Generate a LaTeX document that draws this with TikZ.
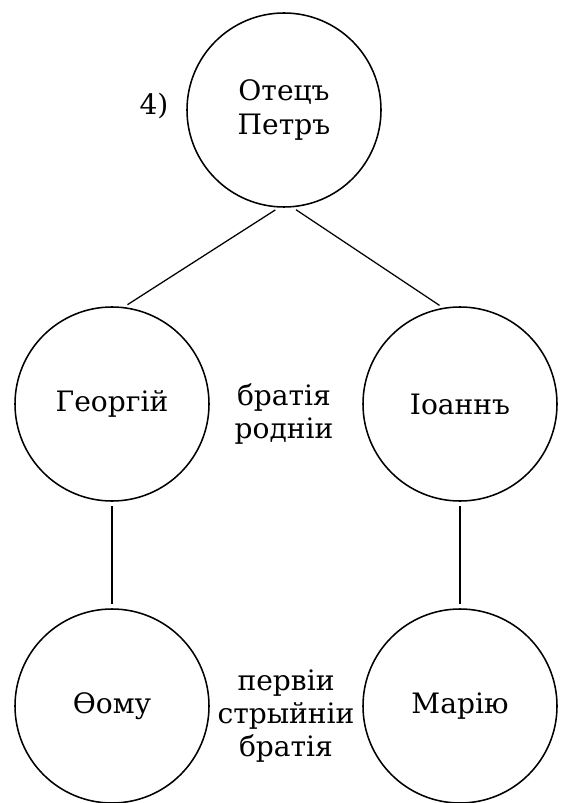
\documentclass[tikz,border=0pt]{standalone}
\usepackage{fontspec}
\setmainfont{DejaVu Serif}

\tikzset{
    person/.style={circle, draw, line width=1.1pt, minimum size=4.85cm, inner sep=0pt, align=center},
    kin/.style={align=center, inner sep=0pt},
    link/.style={line width=0.9pt, shorten <=3pt, shorten >=3pt}
}

\begin{document}
\begin{tikzpicture}[x=1cm,y=1cm]
    \fontsize{20}{23.5}\selectfont
    \useasboundingbox (0,0) rectangle (14,-20.075);

    % Draw persons
    \node[person] (otec) at (7.1,-2.75) {Отецъ\\Петръ};
    \node[person] (georgij) at (2.8,-10.1) {Георгій};
    \node[person] (ioann) at (11.5,-10.1) {Іоаннъ};
    \node[person] (foma) at (2.8,-17.65) {Ѳому};
    \node[person] (mariyu) at (11.5,-17.65) {Марію};

    % Draw labels
    \node (nomer) at (3.85,-2.65) {4)};
    \node[kin] (rodnii) at (7.1,-10.35) {братія\\родніи};
    \node[kin] (stryjnii) at (7.15,-17.9) {первіи\\стрыйніи\\братія};

    % Draw links
    \draw[link] (otec.-93) -- (georgij.83);
    \draw[link] (otec.-85) -- (ioann.100);
    \draw[link] (georgij.south) -- (foma.north);
    \draw[link] (ioann.south) -- (mariyu.north);
\end{tikzpicture}
\end{document}
